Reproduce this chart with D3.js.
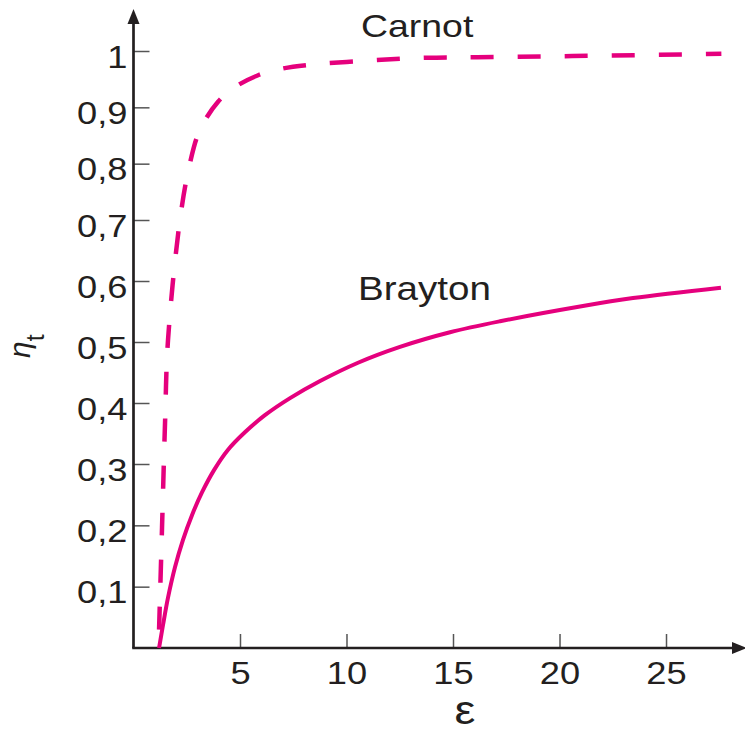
<!DOCTYPE html>
<html lang="en">
<head>
    <meta charset="UTF-8">
    <title>Carnot vs Brayton</title>
    <script src="https://d3js.org/d3.v7.min.js"></script>
    <style>
        body { margin: 0; background: #fff; }
        text { font-family: "Liberation Sans", Arial, sans-serif; fill: #231f20; }
    </style>
</head>
<body>
    <div id="chart"></div>

    <script>
        // values
        const carnotEps = [1.2, 1.34, 1.48, 1.62, 2.18, 2.65, 3.12, 3.97, 4.77, 5.85, 6.88, 8.15, 11.43, 13.78, 16.13, 20.6, 27.6];
        const carnotEta = [0.03, 0.197, 0.367, 0.503, 0.70, 0.801, 0.86, 0.91, 0.936, 0.957, 0.968, 0.975, 0.984, 0.988, 0.989, 0.991, 0.995];

        const braytonEps = [1.2, 1.385, 1.62, 1.95, 2.32, 2.75, 3.22, 3.78, 4.43, 5.23, 6.17, 7.35, 8.76, 10.54, 12.51, 14.86, 17.21, 21.1, 23.45, 27.58];
        const braytonEta = [0, 0.0375, 0.082, 0.132, 0.176, 0.217, 0.254, 0.29, 0.323, 0.352, 0.38, 0.408, 0.436, 0.466, 0.492, 0.516, 0.534, 0.559, 0.572, 0.589];

        const xTicks = [5, 10, 15, 20, 25];
        const yTicks = [0.1, 0.2, 0.3, 0.4, 0.5, 0.6, 0.7, 0.8, 0.9, 1];

        const width = 745, height = 733;
        const pink = "#e5007d";
        const axisColor = "#231f20";
        const stretch = 1.17;  // the original lettering is a bit wider than Arial

        const svg = d3.select("#chart").append("svg")
            .attr("width", width)
            .attr("height", height);

        const x = d3.scaleLinear().domain([0, 25]).range([133.5, 666]);
        // the hand drawn axis is not quite even, so use a few knots
        const y = d3.scaleLinear().domain([0, 0.3, 0.7, 1]).range([648, 464, 220, 51]);

        const fmt = d => String(d).replace(".", ",");

        // x axis ticks + labels
        const gx = svg.append("g")
            .attr("transform", `translate(0,${y(0)})`)
            .call(d3.axisBottom(x).tickValues(xTicks).tickSizeInner(-14).tickSizeOuter(0).tickPadding(14));
        gx.select(".domain").remove();
        gx.selectAll(".tick line").attr("stroke", "#555").attr("stroke-width", 1.5);
        gx.selectAll(".tick text")
            .attr("font-size", 31)
            .attr("font-family", null)
            .attr("fill", null)
            .attr("transform", `scale(${stretch},1)`);

        // y axis ticks + labels
        const gy = svg.append("g")
            .attr("transform", `translate(${x(0)},0)`)
            .call(d3.axisLeft(y).tickValues(yTicks).tickFormat(fmt).tickSizeInner(-16).tickSizeOuter(0));
        gy.select(".domain").remove();
        gy.selectAll(".tick line").attr("stroke", "#555").attr("stroke-width", 1.5);
        gy.selectAll(".tick text")
            .attr("font-size", 31)
            .attr("font-family", null)
            .attr("fill", null)
            .attr("x", -6 / stretch)
            .attr("dy", "0.52em")
            .attr("transform", `scale(${stretch},1)`);

        // axis lines with arrows
        svg.append("line")
            .attr("x1", x(0)).attr("y1", y(0))
            .attr("x2", x(0)).attr("y2", 20)
            .attr("stroke", axisColor).attr("stroke-width", 2.7);
        svg.append("path")
            .attr("d", `M${x(0)},9 L${x(0) - 6},24 L${x(0) + 6},24 Z`)
            .attr("fill", axisColor);

        svg.append("line")
            .attr("x1", x(0) - 1.3).attr("y1", y(0))
            .attr("x2", 736).attr("y2", y(0))
            .attr("stroke", axisColor).attr("stroke-width", 2.7);
        svg.append("path")
            .attr("d", `M747,${y(0)} L732,${y(0) - 6} L732,${y(0) + 6} Z`)
            .attr("fill", axisColor);

        // curves
        const line = d3.line()
            .x(d => x(d[0]))
            .y(d => y(d[1]))
            .curve(d3.curveCatmullRom.alpha(0.5));

        svg.append("path")
            .datum(d3.zip(carnotEps, carnotEta))
            .attr("fill", "none")
            .attr("stroke", pink)
            .attr("stroke-width", 4.5)
            .attr("stroke-dasharray", "23,24")
            .attr("d", line);

        svg.append("path")
            .datum(d3.zip(braytonEps, braytonEta))
            .attr("fill", "none")
            .attr("stroke", pink)
            .attr("stroke-width", 4)
            .attr("d", line);

        // labels
        function label(tx, ty, str, size, anchor) {
            return svg.append("text")
                .attr("transform", `translate(${tx},${ty}) scale(${stretch},1)`)
                .attr("font-size", size)
                .attr("text-anchor", anchor || "start")
                .text(str);
        }

        label(361, 37, "Carnot", 32);
        label(358, 300, "Brayton", 33);
        label(465, 724, "ε", 40, "middle");

        const yl = svg.append("text")
            .attr("transform", "translate(30,358) rotate(-90)")
            .attr("font-size", 30);
        yl.append("tspan").attr("font-style", "italic").text("η");
        yl.append("tspan").attr("font-size", 25).attr("dy", 14).text("t");
    </script>
</body>
</html>
